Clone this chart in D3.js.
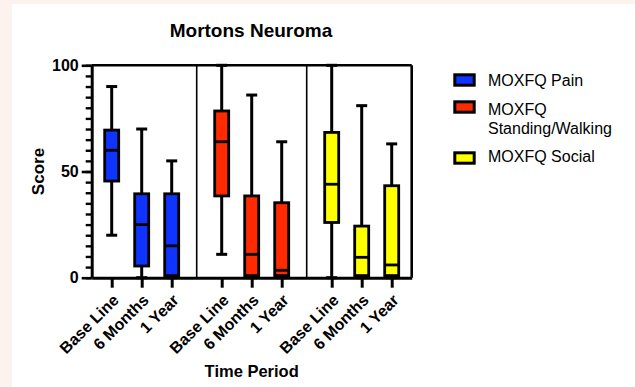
<!DOCTYPE html>
<html>
<head>
<meta charset="utf-8">
<script src="https://cdn.jsdelivr.net/npm/d3@7"></script>
<style>
  body { margin: 0; background: #fdf3ee; }
  svg { display: block; font-family: "Liberation Sans", Arial, sans-serif; }
</style>
</head>
<body>
<div id="chart"></div>
<script>
// time periods and series
var categories = ["Base Line", "6 Months", "1 Year"];
var seriesNames = ["MOXFQ Pain", "MOXFQ Standing/Walking", "MOXFQ Social"];
var seriesColors = ["#1034ff", "#ff2a00", "#ffff00"];

// box plot values per series (min, q1, median, q3, max)
var painMin = [20, 0, 0];
var painQ1 = [45.5, 5.5, 1];
var painMedian = [60, 25, 15];
var painQ3 = [69.5, 39.5, 39.5];
var painMax = [90, 70, 55];

var standingMin = [11, 0, 0];
var standingQ1 = [38.5, 1, 1];
var standingMedian = [64, 11, 3.5];
var standingQ3 = [78.5, 38.5, 35.3];
var standingMax = [100, 86, 64];

var socialMin = [0, 0, 0];
var socialQ1 = [26, 1, 1];
var socialMedian = [44, 9.6, 6];
var socialQ3 = [68.4, 24.3, 43.3];
var socialMax = [100, 81, 63];

var yTicks = [0, 50, 100];

var stats = [
    {min: painMin, q1: painQ1, med: painMedian, q3: painQ3, max: painMax},
    {min: standingMin, q1: standingQ1, med: standingMedian, q3: standingQ3, max: standingMax},
    {min: socialMin, q1: socialQ1, med: socialMedian, q3: socialQ3, max: socialMax}
];

var margin = {top: 65.3, left: 91.7, right: 411.7, bottom: 277.7};

var svg = d3.select("#chart").append("svg")
    .attr("width", 635)
    .attr("height", 387);

// white panel over the peach page
svg.append("rect")
    .attr("x", 12).attr("y", 4)
    .attr("width", 623).attr("height", 383)
    .attr("fill", "#ffffff");

// slot units: 20 padding, 30 between periods, 50 between series groups
var slot = function(g, i){ return 20 + 110 * g + 30 * i; };
var x = d3.scaleLinear().domain([0, 320]).range([margin.left, margin.right]);
var y = d3.scaleLinear().domain([0, 100]).range([margin.bottom, margin.top]);

//build flat list of boxes
var boxes = [];
seriesNames.forEach(function(s, g){
    categories.forEach(function(c, i){
        boxes.push({
            series: g, cat: c, pos: slot(g, i),
            min: stats[g].min[i], q1: stats[g].q1[i], med: stats[g].med[i],
            q3: stats[g].q3[i], max: stats[g].max[i]
        });
    });
});

var boxW = 14, capW = 11;

// frame: top, right and group dividers
var frame = svg.append("g").attr("stroke", "#000").attr("fill", "none");
frame.append("line")
    .attr("x1", x(0)).attr("x2", x(320))
    .attr("y1", y(100)).attr("y2", y(100))
    .attr("stroke-width", 2.6);
frame.append("line")
    .attr("x1", x(320)).attr("x2", x(320))
    .attr("y1", y(100)).attr("y2", y(0))
    .attr("stroke-width", 2.6);
[0, 1].forEach(function(g){
    var mid = (slot(g, 2) + slot(g + 1, 0)) / 2;
    frame.append("line")
        .attr("x1", x(mid)).attr("x2", x(mid))
        .attr("y1", y(100)).attr("y2", y(0))
        .attr("stroke-width", 1.6);
});

// boxes
var bg = svg.selectAll(".box").data(boxes).enter().append("g")
    .attr("class", "box")
    .attr("stroke", "#000");

bg.append("line")
    .attr("x1", function(d){ return x(d.pos); })
    .attr("x2", function(d){ return x(d.pos); })
    .attr("y1", function(d){ return y(d.min); })
    .attr("y2", function(d){ return y(d.max); })
    .attr("stroke-width", 3);

bg.selectAll(".cap")
    .data(function(d){ return [{pos: d.pos, v: d.min}, {pos: d.pos, v: d.max}]; })
    .enter().append("line")
    .attr("class", "cap")
    .attr("x1", function(d){ return x(d.pos) - capW / 2; })
    .attr("x2", function(d){ return x(d.pos) + capW / 2; })
    .attr("y1", function(d){ return y(d.v); })
    .attr("y2", function(d){ return y(d.v); })
    .attr("stroke-width", 3);

bg.append("rect")
    .attr("x", function(d){ return x(d.pos) - boxW / 2; })
    .attr("width", boxW)
    .attr("y", function(d){ return y(d.q3); })
    .attr("height", function(d){ return y(d.q1) - y(d.q3); })
    .attr("fill", function(d){ return seriesColors[d.series]; })
    .attr("stroke-width", 2.8);

bg.append("line")
    .attr("x1", function(d){ return x(d.pos) - boxW / 2; })
    .attr("x2", function(d){ return x(d.pos) + boxW / 2; })
    .attr("y1", function(d){ return y(d.med); })
    .attr("y2", function(d){ return y(d.med); })
    .attr("stroke-width", 2.8);

// y axis: minor ticks every 5, major labelled ticks
var yMinor = svg.append("g")
    .attr("transform", "translate(" + margin.left + ",0)")
    .call(d3.axisLeft(y).tickValues(d3.range(0, 101, 5)).tickSize(6).tickSizeOuter(0).tickFormat(""));
yMinor.selectAll("line").attr("stroke-width", 2.4);
yMinor.select(".domain").remove();

var yAxis = svg.append("g")
    .attr("transform", "translate(" + margin.left + ",0)")
    .call(d3.axisLeft(y).tickValues(yTicks).tickSize(10).tickSizeOuter(0).tickPadding(3));
yAxis.select(".domain").attr("stroke-width", 3);
yAxis.selectAll("line").attr("stroke-width", 2.6);
yAxis.selectAll("text")
    .attr("font-size", 16).attr("font-weight", "bold")
    .attr("font-family", "Liberation Sans, Arial, sans-serif")
    .attr("fill", "#000");

// x axis
var xAxis = svg.append("g")
    .attr("transform", "translate(0," + margin.bottom + ")")
    .call(d3.axisBottom(x)
        .tickValues(boxes.map(function(d){ return d.pos; }))
        .tickFormat(function(v){ return boxes.filter(function(b){ return b.pos === v; })[0].cat; })
        .tickSize(10).tickSizeOuter(0));
xAxis.select(".domain").attr("stroke-width", 3);
xAxis.selectAll("line").attr("stroke-width", 3);
xAxis.selectAll("text")
    .attr("font-size", 16).attr("font-weight", "bold")
    .attr("font-family", "Liberation Sans, Arial, sans-serif")
    .attr("fill", "#000")
    .attr("x", 0).attr("y", 0).attr("dy", 0)
    .style("text-anchor", "end")
    .attr("transform", "translate(7.5,23.5) rotate(-45)");

// titles
svg.append("text")
    .attr("x", 251).attr("y", 37.3)
    .attr("text-anchor", "middle")
    .attr("font-size", 19).attr("font-weight", "bold")
    .text("Mortons Neuroma");

svg.append("text")
    .attr("transform", "translate(44," + ((margin.top + margin.bottom) / 2) + ") rotate(-90)")
    .attr("text-anchor", "middle")
    .attr("font-size", 17).attr("font-weight", "bold")
    .text("Score");

svg.append("text")
    .attr("x", (margin.left + margin.right) / 2).attr("y", 377.3)
    .attr("text-anchor", "middle")
    .attr("font-size", 16.5).attr("font-weight", "bold")
    .text("Time Period");

// legend
var legendRows = [
    {lines: ["MOXFQ Pain"], swatchY: 80, baseline: 85.7},
    {lines: ["MOXFQ", "Standing/Walking"], swatchY: 107, baseline: 115},
    {lines: ["MOXFQ Social"], swatchY: 158, baseline: 162.3}
];
var legend = svg.append("g");
legendRows.forEach(function(r, i){
    legend.append("rect")
        .attr("x", 454.8).attr("y", r.swatchY - 5.2)
        .attr("width", 19.4).attr("height", 10.4)
        .attr("fill", seriesColors[i])
        .attr("stroke", "#000").attr("stroke-width", 3);
    var t = legend.append("text")
        .attr("x", 488).attr("y", r.baseline)
        .attr("font-size", 16);
    r.lines.forEach(function(l, j){
        t.append("tspan").attr("x", 488).attr("dy", j === 0 ? 0 : 19).text(l);
    });
});
</script>
</body>
</html>
